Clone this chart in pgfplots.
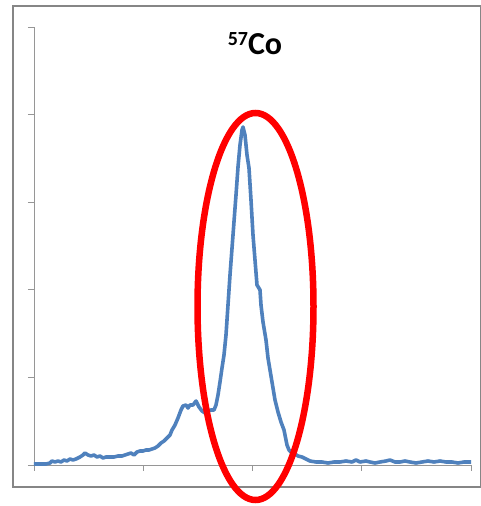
\documentclass[border=0pt]{standalone}
\usepackage{fontspec}
\setmainfont{Carlito}
\usepackage{pgfplots}
\pgfplotsset{compat=1.18}
\definecolor{excelblue}{RGB}{79,129,189}
\definecolor{framegray}{RGB}{134,134,134}
\definecolor{axisgray}{RGB}{150,150,150}

\begin{document}
\begin{tikzpicture}
\useasboundingbox (0pt,0pt) rectangle (481pt,506pt);
\fill[white] (0pt,0pt) rectangle (481pt,506pt);
\draw[framegray, line width=1.8pt] (13pt,19pt) rectangle (480.5pt,500pt);
\begin{axis}[
  at={(34pt,41pt)}, anchor=south west,
  scale only axis, width=437pt, height=438pt,
  xmin=0, xmax=437, ymin=0, ymax=438,
  axis lines*=left,
  axis line style={axisgray, line width=0.9pt},
  xtick={0,109.25,218.5,327.75,437},
  ytick={0,87.6,175.2,262.8,350.4,438},
  xticklabels={}, yticklabels={},
  tick align=outside,
  major tick length=6pt,
  tick style={axisgray, line width=0.9pt},
  clip=false,
]
\addplot[excelblue, line width=3.6pt, line join=round] coordinates {
(0,1)(6,1)(12,1)(16,2)(18,4)(21,3)(24,4)(27,3)(30,5)(33,4)(36,6)(39,5)(42,6)
(46,8)(49,10)(51,12)(54,10)(57,9)(60,10)(63,8)(66,9)(69,7)(72,8)(76,8)(80,8)
(84,9)(88,9)(91,10)(94,11)(97,12)(100,10)(103,13)(106,14)(109,14)(112,15)
(115,15)(118,16)(121,17)(124,19)(127,22)(130,24)(133,27)(136,30)(138,35)
(141,40)(144,47)(147,55)(149,59)(152,60)(154,57)(156,60)(159,60)(162,64)
(165,58)(168,54)(171,52)(174,54)(177,55)(180,55)(182,60)(184,70)(186,83)
(188,97)(190,110)(192,130)(194,160)(196,190)(199,230)(202,270)(204,298)
(206,320)(208,335)(209,338)(211,330)(213,310)(215,297)(217,265)(219,230)
(221,205)(223,180)(226,175)(227,160)(229,143)(232,125)(234,107)(236,95)
(238,83)(241,65)(244,53)(247,43)(250,35)(253,20)(255,15)(258,12)(261,11)
(264,9)(268,8)(272,6)(276,4)(282,3)(288,3)(294,2)(300,3)(306,3)(312,4)
(318,3)(322,5)(326,3)(332,4)(336,3)(341,2)(346,3)(352,4)(356,5)(361,3)
(366,3)(371,4)(376,3)(382,2)(388,3)(394,4)(400,3)(406,4)(412,3)(418,3)
(424,2)(430,3)(437,3)
};
\end{axis}
\draw[red, line width=6.5pt] (255.5pt,199.5pt) ellipse [x radius=58pt, y radius=193.5pt];
\node[anchor=base, inner sep=0pt] at (255pt,451pt)
  {\bfseries\raisebox{9pt}{\fontsize{20}{20}\selectfont 57}\fontsize{32}{32}\selectfont Co};
\end{tikzpicture}
\end{document}
